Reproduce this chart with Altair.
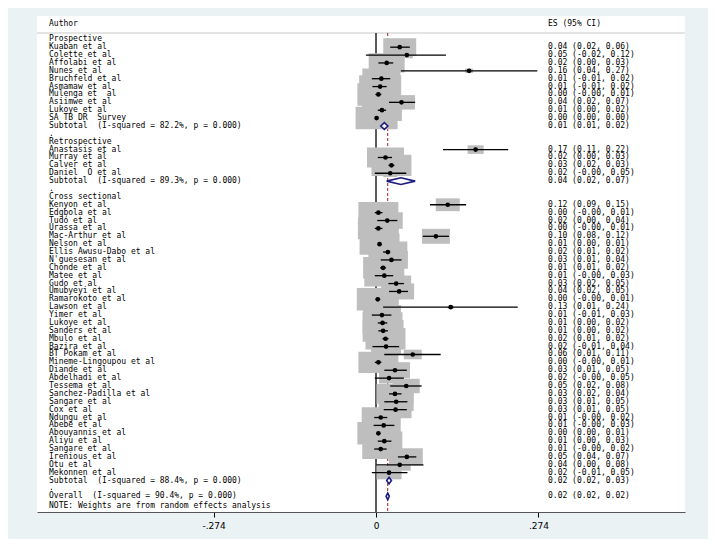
import altair as alt
import pandas as pd

# ---------------- data ----------------
group_labels = ["Prospective", "Retrospective", "Cross sectional"]

prospective_names = ["Kuaban et al", "Colette et al", "Affolabi et al", "Nunes et al",
                     "Bruchfeld et al", "Asmamaw et al", "Mulenga et\u00a0 al", "Asiimwe et al",
                     "Lukoye et al", "SA TB DR\u00a0 Survey"]
prospective_es = [0.040, 0.052, 0.018, 0.157, 0.009, 0.007, 0.004, 0.043, 0.010, 0.001]
prospective_lo = [0.024, -0.017, 0.004, 0.042, -0.007, -0.006, -0.001, 0.022, 0.003, 0.000]
prospective_hi = [0.057, 0.118, 0.029, 0.272, 0.024, 0.018, 0.009, 0.066, 0.017, 0.002]
prospective_wt = [1.51, 0.20, 1.80, 0.09, 2.01, 2.45, 2.45, 1.01, 2.22, 2.45]

retro_names = ["Anastasis et al", "Murray et al", "Calver et al", "Daniel\u00a0 O et al"]
retro_es = [0.168, 0.016, 0.026, 0.024]
retro_lo = [0.113, 0.003, 0.021, -0.002]
retro_hi = [0.223, 0.027, 0.031, 0.051]
retro_wt = [0.36, 1.90, 2.22, 0.27]

cross_names = ["Kenyon et al", "Edgbola et al", "Tudó et al", "Urassa et al", "Mac-Arthur et al",
               "Nelson et al", "Ellis Awusu-Dabo et al", "N'guesesan et al", "Chonde et al",
               "Matee et al", "Gudo et al", "Umubyeyi et al", "Ramarokoto et al", "Lawson et al",
               "Yimer et al", "Lukoye et al", "Sanders et al", "Mbulo et al", "Bazira et al",
               "\u00a0BT Pokam et al", "Mineme-Lingoupou et al", "Diande et al", "Abdelhadi et al",
               "Tessema et al", "Sanchez-Padilla et al", "Sangare et al", "Cox et al", "Ndungu et al",
               "Abebe et al", "Abouyannis et al", "Aliyu et al", "Sangare et al", "Irenious et al",
               "Otu et al", "Mekonnen et al"]
cross_es = [0.121, 0.004, 0.019, 0.004, 0.101, 0.006, 0.020, 0.026, 0.012, 0.014,
            0.034, 0.039, 0.003, 0.126, 0.010, 0.011, 0.012, 0.016, 0.017, 0.062,
            0.004, 0.032, 0.022, 0.051, 0.032, 0.034, 0.033, 0.008, 0.013, 0.004,
            0.014, 0.008, 0.052, 0.040, 0.022]
cross_lo = [0.091, -0.002, 0.002, -0.002, 0.079, 0.003, 0.012, 0.008, 0.007, -0.002,
            0.021, 0.022, -0.001, 0.012, -0.007, 0.003, 0.004, 0.011, -0.006, 0.014,
            -0.002, 0.014, -0.002, 0.024, 0.022, 0.014, 0.013, -0.003, -0.004, 0.001,
            0.003, -0.003, 0.037, 0.001, -0.007]
cross_hi = [0.152, 0.011, 0.036, 0.011, 0.123, 0.009, 0.024, 0.043, 0.017, 0.029,
            0.047, 0.054, 0.007, 0.239, 0.026, 0.019, 0.020, 0.021, 0.039, 0.109,
            0.009, 0.052, 0.047, 0.077, 0.043, 0.053, 0.052, 0.019, 0.031, 0.007,
            0.026, 0.018, 0.068, 0.080, 0.053]
cross_wt = [0.80, 2.22, 1.33, 2.33, 1.09, 2.22, 2.11, 1.51, 2.22, 2.22,
            1.25, 1.25, 2.45, 0.05, 2.01, 2.22, 2.33, 2.22, 1.25, 0.45,
            2.22, 1.25, 0.56, 1.01, 1.90, 1.70, 1.42, 2.01, 1.61, 2.45,
            1.80, 1.90, 1.42, 0.67, 0.87]

pooled_labels = ["Subtotal\u00a0 (I-squared = 82.2%, p = 0.000)",
                 "Subtotal\u00a0 (I-squared = 89.3%, p = 0.000)",
                 "Subtotal\u00a0 (I-squared = 88.4%, p = 0.000)",
                 "Overall\u00a0 (I-squared = 90.4%, p = 0.000)"]
pooled_es = [0.014, 0.042, 0.022, 0.0197]
pooled_lo = [0.008, 0.018, 0.018, 0.017]
pooled_hi = [0.020, 0.066, 0.026, 0.0224]

note_text = "NOTE: Weights are from random effects analysis"
header_left = "Author"
header_right = "ES (95% CI)"

tick_values = [-0.274, 0, 0.274]
tick_labels = ["-.274", "0", ".274"]

# ---------------- build rows ----------------
studies, pooled, labels = [], [], []
row = 1
groups = [(prospective_names, prospective_es, prospective_lo, prospective_hi, prospective_wt),
          (retro_names, retro_es, retro_lo, retro_hi, retro_wt),
          (cross_names, cross_es, cross_lo, cross_hi, cross_wt)]


def fmt(e, l, h):
    return f"{e:.2f} ({l:.2f}, {h:.2f})"


for gi, (names, e_, l_, h_, w_) in enumerate(groups):
    labels.append({"row": row, "left": group_labels[gi], "right": ""})
    row += 1
    for n, e, l, h, w in zip(names, e_, l_, h_, w_):
        studies.append({"row": row, "es": e, "lo": l, "hi": h, "weight": w})
        labels.append({"row": row, "left": n, "right": fmt(e, l, h)})
        row += 1
    pooled.append({"row": row, "es": pooled_es[gi], "lo": pooled_lo[gi], "hi": pooled_hi[gi]})
    labels.append({"row": row, "left": pooled_labels[gi], "right": fmt(pooled_es[gi], pooled_lo[gi], pooled_hi[gi])})
    row += 1
    labels.append({"row": row, "left": ".", "right": ""})
    row += 1
pooled.append({"row": row, "es": pooled_es[3], "lo": pooled_lo[3], "hi": pooled_hi[3]})
labels.append({"row": row, "left": pooled_labels[3], "right": fmt(pooled_es[3], pooled_lo[3], pooled_hi[3])})
labels.append({"row": row + 1.25, "left": note_text, "right": ""})
labels.append({"row": -0.95, "left": header_left, "right": header_right})

study_df = pd.DataFrame(studies)
label_df = pd.DataFrame(labels)

dh = 0.42
diamond_rows = []
for i, p in enumerate(pooled):
    diamond_rows += [
        {"g": i, "x": p["lo"], "y1": p["row"], "y2": p["row"]},
        {"g": i, "x": p["es"], "y1": p["row"] - dh, "y2": p["row"] + dh},
        {"g": i, "x": p["hi"], "y1": p["row"], "y2": p["row"]},
    ]
diamond_df = pd.DataFrame(diamond_rows)

# ---------------- scales ----------------
W, H = 648, 496
xscale = alt.Scale(domain=[-0.5717, 0.5211], nice=False, zero=False)
YMAX = 60.99
yscale = alt.Scale(domain=[-1.957, YMAX], reverse=True, nice=False, zero=False)

label_expr = ""
for v, t in zip(tick_values, tick_labels):
    label_expr += f"abs(datum.value - ({v})) < 1e-6 ? '{t}' : "
label_expr += "''"
xaxis = alt.Axis(values=tick_values, labelExpr=label_expr, grid=False, title=None,
                 tickSize=5, tickColor="black", tickWidth=1, domainColor="#555555",
                 domainWidth=1, labelFontSize=9, labelColor="black", labelPadding=4,
                 labelFont="DejaVu Sans")

FONT = "DejaVu Sans Mono"
FS = 8

base = alt.Chart(study_df)

header_line = alt.Chart(pd.DataFrame({"y": [0.2]})).mark_rule(color="#c8c8c8", strokeWidth=1).encode(
    y=alt.Y("y:Q", scale=yscale, axis=None))

zero_line = alt.Chart(pd.DataFrame({"x": [0.0], "y": [0.2], "y2": [YMAX]})).mark_rule(
    color="black", strokeWidth=1.3).encode(
    x=alt.X("x:Q", scale=xscale, axis=xaxis),
    y=alt.Y("y:Q", scale=yscale, axis=None), y2="y2:Q")

overall_line = alt.Chart(pd.DataFrame({"x": [pooled_es[3]], "y": [0.2], "y2": [YMAX]})).mark_rule(
    color="#a8323a", strokeWidth=1.1, strokeDash=[3, 2]).encode(
    x=alt.X("x:Q", scale=xscale, axis=xaxis),
    y=alt.Y("y:Q", scale=yscale, axis=None), y2="y2:Q")

box_path = "M-1,-0.535L1,-0.535L1,0.535L-1,0.535Z"
boxes = base.transform_calculate(sz="datum.weight * 720").mark_point(
    shape=box_path, filled=True, color="#bebebe", opacity=1, strokeWidth=0).encode(
    x=alt.X("es:Q", scale=xscale, axis=xaxis),
    y=alt.Y("row:Q", scale=yscale, axis=None),
    size=alt.Size("sz:Q", scale=None))

ci = base.mark_rule(color="black", strokeWidth=1.3).encode(
    x=alt.X("lo:Q", scale=xscale, axis=xaxis), x2="hi:Q",
    y=alt.Y("row:Q", scale=yscale, axis=None))

points = base.mark_point(shape="circle", filled=True, color="black", opacity=1, size=22).encode(
    x=alt.X("es:Q", scale=xscale, axis=xaxis),
    y=alt.Y("row:Q", scale=yscale, axis=None))

diamonds = alt.Chart(diamond_df).mark_area(
    orient="vertical", fill="white", fillOpacity=1, opacity=1,
    stroke="#1c1c80", strokeWidth=1.6).encode(
    x=alt.X("x:Q", scale=xscale, axis=xaxis),
    y=alt.Y("y1:Q", scale=yscale, axis=None), y2="y2:Q",
    detail="g:N")

left_text = alt.Chart(label_df).mark_text(
    align="left", baseline="middle", font=FONT, fontSize=FS, color="black").encode(
    x=alt.value(12), y=alt.Y("row:Q", scale=yscale, axis=None), text="left:N")

right_text = alt.Chart(label_df).mark_text(
    align="left", baseline="middle", font=FONT, fontSize=FS, color="black").encode(
    x=alt.value(511), y=alt.Y("row:Q", scale=yscale, axis=None), text="right:N")

chart = alt.layer(header_line, zero_line, overall_line, boxes, ci, points, diamonds,
                  left_text, right_text).properties(
    width=W, height=H, autosize="none",
    padding={"left": 29, "top": 8, "right": 23, "bottom": 27},
    background="#eaf2f3",
).configure_view(fill="white", stroke=None)

chart.save("out.html", embed_options={"renderer": "svg", "actions": False})
